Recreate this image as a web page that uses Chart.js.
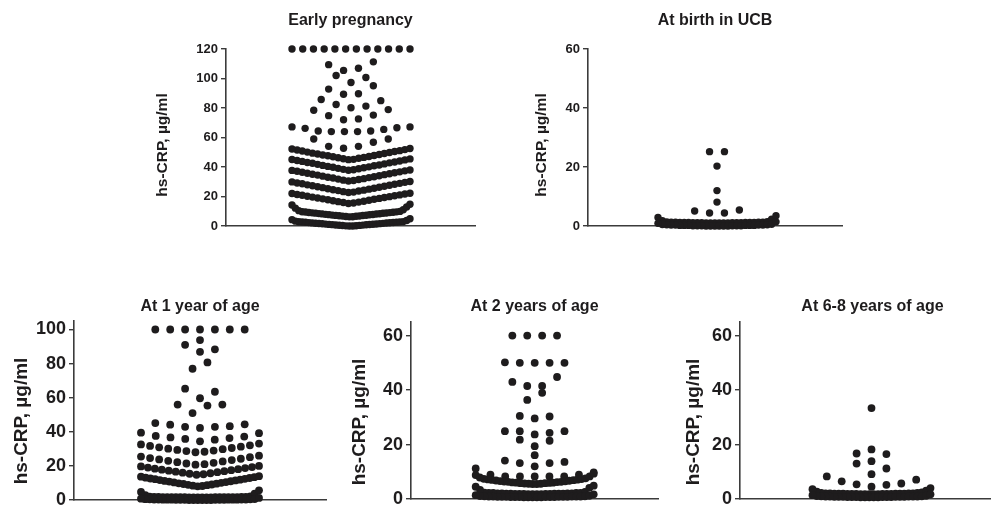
<!DOCTYPE html>
<html>
<head>
<meta charset="utf-8">
<script src="https://cdn.jsdelivr.net/npm/chart.js@4.4.1/dist/chart.umd.min.js"></script>
<style>
  html, body { margin: 0; padding: 0; background: #fff; }
  body { position: relative; width: 991px; height: 511px; overflow: hidden; }
  canvas { position: absolute; }
</style>
</head>
<body>
<script>
// hs-CRP values, grouped the way the dots are stacked (one group = one horizontal band)
const earlyRows = [
  [120, 120, 120, 120, 120, 120, 120, 120, 120, 120, 120, 120],
  [105.5, 107, 109.4, 111.3],
  [97.3, 100.7, 102],
  [89.3, 89.7, 92.8, 95.1],
  [80.2, 81.3, 82.4, 85, 85.8],
  [72, 72.6, 74.8, 75.2, 78.5, 78.9],
  [64, 64, 64, 64.4, 64.4, 65.5, 66.2, 66.6, 67.2, 67.2],
  [52.7, 54, 54, 56.8, 59, 59],
  [45, 45.2, 45.6, 45.9, 46.3, 46.5, 46.9, 47.1, 47.6, 47.8, 48.1, 48.5, 48.8, 49.2, 49.4, 49.8, 50.1, 50.5, 50.8, 51.1, 51.5, 51.8, 52.2, 52.5],
  [37.8, 38.1, 38.4, 38.8, 39.1, 39.5, 39.8, 40.1, 40.4, 40.8, 41.1, 41.4, 41.8, 42.1, 42.5, 42.8, 43.1, 43.4, 43.8, 44.1, 44.4, 44.8, 45.1, 45.5],
  [30.5, 30.8, 31.1, 31.5, 31.8, 32.1, 32.5, 32.8, 33.1, 33.4, 33.8, 34.1, 34.5, 34.8, 35.1, 35.4, 35.8, 36.1, 36.4, 36.7, 37.1, 37.4, 37.7, 38],
  [22.7, 23, 23.3, 23.7, 24, 24.3, 24.6, 25, 25.3, 25.6, 26, 26.3, 26.6, 27, 27.3, 27.6, 27.9, 28.3, 28.6, 28.9, 29.2, 29.6, 29.9, 30.2],
  [15.3, 15.6, 15.9, 16.2, 16.5, 16.8, 17.1, 17.5, 17.8, 18.1, 18.4, 18.7, 19, 19.3, 19.6, 19.9, 20.2, 20.5, 20.8, 21.1, 21.4, 21.7, 22, 22.2],
  [6.2, 6.3, 6.4, 6.6, 6.7, 6.8, 6.9, 7.1, 7.2, 7.3, 7.4, 7.6, 7.7, 7.8, 7.9, 8.1, 8.2, 8.3, 8.4, 8.6, 8.7, 8.8, 8.9, 9.1, 9.2, 9.3, 9.5, 9.6, 9.7, 9.9, 10.4, 11, 12.1, 12.9, 14.2, 14.7],
  [0, 0, 0.1, 0.2, 0.3, 0.4, 0.5, 0.6, 0.7, 0.8, 0.9, 1, 1.1, 1.2, 1.3, 1.4, 1.5, 1.6, 1.7, 1.8, 1.9, 2, 2.1, 2.2, 2.3, 2.4, 2.5, 2.6, 2.7, 2.8, 2.9, 3, 3.3, 3.7, 4.3, 4.9]
];

const birthRows = [
  [25.2, 25.2],
  [20.3],
  [12],
  [8.1],
  [4.4, 4.4, 5.1, 5.4],
  [1, 1, 1, 1, 1, 1, 1.1, 1.1, 1.1, 1.1, 1.1, 1.1, 1.2, 1.2, 1.2, 1.2, 1.2, 1.2, 1.3, 1.3, 1.3, 1.3, 1.4, 1.5, 1.8, 2.3, 2.9, 3.5],
  [0, 0, 0, 0, 0, 0, 0.1, 0.1, 0.1, 0.1, 0.1, 0.1, 0.2, 0.2, 0.2, 0.2, 0.2, 0.2, 0.3, 0.3, 0.3, 0.3, 0.4, 0.4, 0.5, 0.6, 0.9, 1.4]
];

const yearOneRows = [
  [100, 100, 100, 100, 100, 100, 100],
  [93.8],
  [86.9, 88.4, 91],
  [77, 80.7],
  [59.7, 63.5, 65.3],
  [51, 55.4, 56, 56],
  [42.3, 42.9, 42.9, 43.3, 44.2, 44.4, 45.1],
  [34.4, 35.4, 35.8, 36.3, 36.7, 37.2, 37.6, 39.2, 39.5],
  [28, 28.3, 28.7, 29, 29.4, 29.8, 30.1, 30.5, 30.9, 31.3, 31.7, 32.1, 32.6, 33.1],
  [20.7, 21, 21.4, 21.8, 22.2, 22.6, 23, 23.4, 23.8, 24.2, 24.6, 25.1, 25.5, 26],
  [14.8, 15.1, 15.4, 15.7, 16, 16.3, 16.6, 16.9, 17.2, 17.5, 17.8, 18.1, 18.4, 18.7, 19, 19.3, 19.7, 20],
  [8, 8.2, 8.4, 8.7, 8.9, 9.1, 9.4, 9.6, 9.8, 10.1, 10.3, 10.5, 10.8, 11, 11.2, 11.5, 11.7, 11.9, 12.2, 12.4, 12.6, 12.9, 13.1, 13.4, 13.7, 14],
  [1.5, 1.5, 1.5, 1.5, 1.5, 1.5, 1.6, 1.6, 1.6, 1.6, 1.6, 1.6, 1.7, 1.7, 1.7, 1.7, 1.7, 1.7, 1.8, 1.8, 1.8, 1.8, 1.9, 2.1, 2.8, 3.7, 4.7, 5.7],
  [0, 0, 0, 0, 0, 0, 0.1, 0.1, 0.1, 0.1, 0.1, 0.1, 0.2, 0.2, 0.2, 0.2, 0.2, 0.2, 0.3, 0.3, 0.3, 0.3, 0.4, 0.4, 0.5, 0.6, 0.8, 1.2]
];

const yearTwoRows = [
  [60, 60, 60, 60],
  [50, 50, 50, 50, 50.2],
  [41.5, 41.5, 43, 44.8],
  [36.4, 39],
  [29.6, 30.3, 30.5],
  [23.7, 24.3, 24.9, 24.9, 24.9],
  [19.4, 21.4, 21.8],
  [16.1],
  [12, 13.2, 13.2, 13.6, 14.1],
  [8.3, 8.3, 8.3, 8.3, 8.3, 8.9, 8.9, 9.8, 11.2],
  [5.5, 5.5, 5.6, 5.6, 5.7, 5.8, 5.8, 5.9, 6, 6, 6.1, 6.2, 6.3, 6.3, 6.4, 6.5, 6.6, 6.7, 6.8, 6.9, 7, 7.1, 7.2, 7.3, 7.4, 7.6, 7.9, 8.3, 8.8, 9.3],
  [1.8, 1.8, 1.8, 1.8, 1.9, 1.9, 1.9, 1.9, 1.9, 2, 2, 2, 2, 2, 2.1, 2.1, 2.1, 2.1, 2.2, 2.2, 2.2, 2.2, 2.3, 2.6, 3.3, 4.1, 4.5, 4.9],
  [0.6, 0.6, 0.6, 0.6, 0.6, 0.7, 0.7, 0.7, 0.7, 0.7, 0.7, 0.8, 0.8, 0.8, 0.8, 0.8, 0.8, 0.9, 0.9, 0.9, 0.9, 0.9, 1, 1, 1.1, 1.2, 1.4, 1.7]
];

const yearSixRows = [
  [33.4],
  [18.2],
  [13.9, 16.5, 16.7],
  [9.1, 11.2, 13],
  [4.5, 5.2, 5.4, 5.7, 6.5, 7.1, 8.3],
  [1.8, 1.8, 1.8, 1.8, 1.8, 1.9, 1.9, 1.9, 1.9, 1.9, 1.9, 2, 2, 2, 2, 2, 2, 2.1, 2.1, 2.1, 2.1, 2.2, 2.2, 2.4, 2.7, 3.1, 3.6, 4],
  [0.6, 0.6, 0.6, 0.6, 0.6, 0.7, 0.7, 0.7, 0.7, 0.7, 0.7, 0.8, 0.8, 0.8, 0.8, 0.8, 0.8, 0.9, 0.9, 0.9, 0.9, 0.9, 1, 1, 1.1, 1.2, 1.4, 1.7]
];

const earlyTicks = [0, 20, 40, 60, 80, 100, 120];
const birthTicks = [0, 20, 40, 60];
const yearOneTicks = [0, 20, 40, 60, 80, 100];
const yearTwoTicks = [0, 20, 40, 60];
const yearSixTicks = [0, 20, 40, 60];

const panelTitles = ["Early pregnancy", "At birth in UCB", "At 1 year of age", "At 2 years of age", "At 6-8 years of age"];
const axisLabel = "hs-CRP, µg/ml";

// look
const INK = "#1e1c1d";
const AXIS = "#3b3b3b";
const FONT = "'Liberation Sans', Arial, Helvetica, sans-serif";
const SLOT = 7.45;      // px between neighbouring dot columns
const HALF_SPAN = 59;   // widest a band may spread, px from the centre

// Prism-like stacking: lowest value in the middle, the rest alternately outwards
function swarm(rows) {
  const maxSlots = HALF_SPAN / SLOT;
  const pts = [];
  rows.forEach((row) => {
    const vals = [...row].sort((a, b) => a - b);
    const odd = vals.length % 2 === 1;
    const slots = vals.map((v, i) => {
      if (odd) {
        if (i === 0) return 0;
        const k = Math.ceil(i / 2) * 2;
        return i % 2 ? k : -k;
      }
      const k = Math.floor(i / 2) * 2 + 1;
      return i % 2 ? k : -k;
    });
    const reach = Math.max(...slots.map(Math.abs));
    const squeeze = reach > maxSlots ? maxSlots / reach : 1;
    vals.forEach((v, i) => pts.push({ x: slots[i] * squeeze, y: v }));
  });
  return pts;
}

// rotated y label, placed by hand so it sits where the original has it
const sideLabel = {
  id: "sideLabel",
  afterDraw(chart, args, opts) {
    const ctx = chart.ctx;
    ctx.save();
    ctx.translate(opts.x, opts.y);
    ctx.rotate(-Math.PI / 2);
    ctx.font = "bold " + opts.size + "px " + FONT;
    ctx.fillStyle = INK;
    ctx.textAlign = "center";
    ctx.textBaseline = "middle";
    ctx.fillText(axisLabel, 0, 0);
    ctx.restore();
  }
};

const panels = [
  { rows: earlyRows, ticks: earlyTicks, title: panelTitles[0], yMax: 120,
    area: { l: 226, r: 475, t: 49, b: 234 }, cx: 351, titleY: 21, labelX: 163, labelY: 145, tickSize: 13, labelSize: 15.5, radius: 3.7 },
  { rows: birthRows, ticks: birthTicks, title: panelTitles[1], yMax: 60,
    area: { l: 588, r: 842, t: 49, b: 234 }, cx: 717, titleY: 21, labelX: 542, labelY: 145, tickSize: 13, labelSize: 15.5, radius: 3.7 },
  { rows: yearOneRows, ticks: yearOneTicks, title: panelTitles[2], yMax: 105,
    area: { l: 74, r: 326, t: 321, b: 508 }, cx: 200, titleY: 307, labelX: 22, labelY: 421, tickSize: 18, labelSize: 19, radius: 3.9 },
  { rows: yearTwoRows, ticks: yearTwoTicks, title: panelTitles[3], yMax: 65,
    area: { l: 411, r: 658, t: 322, b: 507 }, cx: 534.7, titleY: 307, labelX: 360, labelY: 422, tickSize: 18, labelSize: 19, radius: 3.9 },
  { rows: yearSixRows, ticks: yearSixTicks, title: panelTitles[4], yMax: 65,
    area: { l: 740, r: 1005, t: 322, b: 507 }, cx: 871.5, titleY: 307, labelX: 694, labelY: 422, tickSize: 18, labelSize: 19, radius: 3.9 }
];

function makePanel(p) {
  const a = p.area;
  const left = Math.round(p.labelX - p.labelSize * 0.7);
  const top = Math.round(p.titleY - 9.6);
  const yw = a.l - left;
  const gap = a.t - top - 19.2;
  const w = a.r - left + 6;
  const h = a.b - top + 14;

  const canvas = document.createElement("canvas");
  canvas.width = w;
  canvas.height = h;
  canvas.style.left = left + "px";
  canvas.style.top = top + "px";
  canvas.style.width = w + "px";
  canvas.style.height = h + "px";
  document.body.appendChild(canvas);

  new Chart(canvas, {
    type: "scatter",
    data: {
      datasets: [{
        data: swarm(p.rows),
        pointRadius: p.radius,
        pointHoverRadius: p.radius,
        pointBackgroundColor: INK,
        pointBorderWidth: 0,
        clip: false
      }]
    },
    plugins: [sideLabel],
    options: {
      responsive: false,
      animation: false,
      devicePixelRatio: 1,
      events: [],
      layout: { padding: { left: 0, top: 0, right: 6, bottom: 14 } },
      plugins: {
        legend: { display: false },
        tooltip: { enabled: false },
        sideLabel: { x: p.labelX - left, y: p.labelY - top, size: p.labelSize },
        title: {
          display: true,
          text: p.title,
          fullSize: false,
          color: INK,
          font: { family: FONT, size: 16, weight: "bold" },
          padding: { top: 0, bottom: gap }
        }
      },
      scales: {
        x: {
          type: "linear",
          min: -(p.cx - a.l) / SLOT,
          max: (a.r - p.cx) / SLOT,
          grid: { display: false },
          ticks: { display: false },
          border: { display: true, color: AXIS, width: 1.6 }
        },
        y: {
          type: "linear",
          min: 0,
          max: p.yMax,
          afterBuildTicks: (s) => { s.ticks = p.ticks.map((v) => ({ value: v })); },
          afterFit: (s) => { s.width = yw; },
          grid: { display: true, drawOnChartArea: false, drawTicks: true, tickLength: 5, color: AXIS, lineWidth: 1.4 },
          border: { display: true, color: AXIS, width: 1.6 },
          ticks: { color: INK, padding: 3, font: { family: FONT, size: p.tickSize, weight: "bold" } }
        }
      }
    }
  });
}

panels.forEach(makePanel);
</script>
</body>
</html>
